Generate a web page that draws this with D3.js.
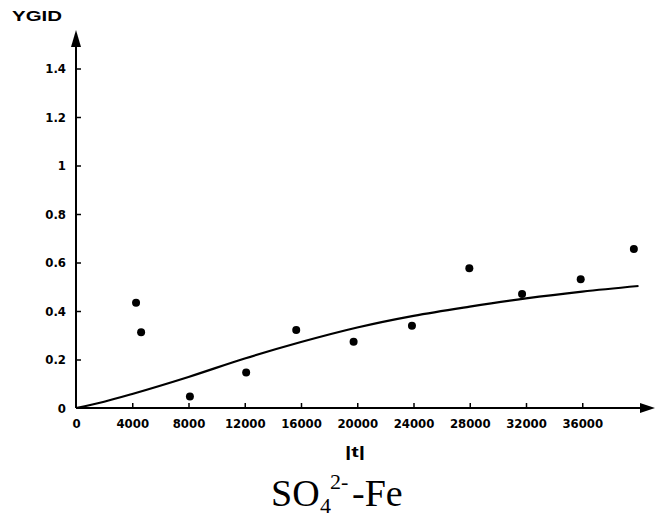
<!DOCTYPE html>
<html>
<head>
<meta charset="utf-8">
<script src="https://cdn.jsdelivr.net/npm/d3@7"></script>
<style>
  html, body { margin: 0; padding: 0; background: #fff; }
  svg { display: block; }
  .tick text { font-family: "Liberation Sans Narrow", "DejaVu Sans Condensed", "Liberation Sans", sans-serif; font-weight: bold; font-size: 13px; fill: #000; }
</style>
</head>
<body>
<svg id="chart" width="655" height="523"></svg>
<script>
// Measured points: time vs. value
const timeValues = [4270, 4630, 8100, 12100, 15660, 19740, 23890, 27970, 31720, 35890, 39670];
const yValues    = [0.434, 0.312, 0.047, 0.146, 0.322, 0.273, 0.339, 0.576, 0.470, 0.531, 0.656];

// Fitted curve, read at regular time steps
const fitTime  = [0, 2000, 4000, 8000, 12000, 16000, 20000, 24000, 28000, 32000, 36000, 40000];
const fitValue = [0, 0.026, 0.058, 0.128, 0.204, 0.272, 0.332, 0.380, 0.418, 0.452, 0.480, 0.503];

// Axis ticks
const xTicks = [0, 4000, 8000, 12000, 16000, 20000, 24000, 28000, 32000, 36000];
const yTicks = [0, 0.2, 0.4, 0.6, 0.8, 1, 1.2, 1.4];

const svg = d3.select("#chart");
const x = d3.scaleLinear().domain([0, 40000]).range([76, 638.5]);
const y = d3.scaleLinear().domain([0, 1.4]).range([408, 68.5]);

// X axis (ticks pointing up into the plot)
const xAxis = svg.append("g")
  .attr("transform", `translate(0,${y(0)})`)
  .call(d3.axisBottom(x).tickValues(xTicks).tickSize(-5).tickPadding(12).tickFormat(d3.format("d")));
xAxis.select(".domain").remove();
xAxis.selectAll(".tick line").attr("stroke", "#000").attr("stroke-width", 1.5);
xAxis.selectAll(".tick").filter(d => d === 0).select("line").remove();
xAxis.selectAll(".tick text").attr("dy", "0.71em").attr("y", 11);

// Y axis (ticks pointing right into the plot)
const yAxis = svg.append("g")
  .attr("transform", `translate(${x(0)},0)`)
  .call(d3.axisLeft(y).tickValues(yTicks).tickSize(-5).tickPadding(10).tickFormat(d3.format("~g")));
yAxis.select(".domain").remove();
yAxis.selectAll(".tick line").attr("stroke", "#000").attr("stroke-width", 1.5);
yAxis.selectAll(".tick").filter(d => d === 0).select("line").remove();

// Axis lines with arrowheads
svg.append("line").attr("x1", x(0)).attr("y1", y(0)).attr("x2", x(0)).attr("y2", 38)
  .attr("stroke", "#000").attr("stroke-width", 2);
svg.append("path").attr("d", `M${x(0)},30 L${x(0) - 5},47 L${x(0) + 5},47 Z`).attr("fill", "#000");
svg.append("line").attr("x1", x(0)).attr("y1", y(0)).attr("x2", 645).attr("y2", y(0))
  .attr("stroke", "#000").attr("stroke-width", 2);
svg.append("path").attr("d", `M655,${y(0)} L640,${y(0) - 5} L640,${y(0) + 5} Z`).attr("fill", "#000");

// Fitted curve
const line = d3.line().x((d, i) => x(fitTime[i])).y(d => y(d)).curve(d3.curveMonotoneX);
svg.append("path").datum(fitValue).attr("d", line)
  .attr("fill", "none").attr("stroke", "#000").attr("stroke-width", 2.2);

// Data points
svg.append("g").selectAll("circle").data(yValues).join("circle")
  .attr("cx", (d, i) => x(timeValues[i])).attr("cy", d => y(d)).attr("r", 4).attr("fill", "#000");

// Axis titles
svg.append("text").attr("x", 12).attr("y", 21).text("YGID")
  .attr("font-family", "'Liberation Sans', Arial, sans-serif").attr("font-weight", "bold")
  .attr("font-size", 14).attr("textLength", 50).attr("lengthAdjust", "spacingAndGlyphs");
svg.append("text").attr("x", 345).attr("y", 457).text("|t|")
  .attr("font-family", "'Liberation Sans', Arial, sans-serif").attr("font-weight", "bold")
  .attr("font-size", 14).attr("textLength", 20).attr("lengthAdjust", "spacingAndGlyphs");

// Caption: SO4^2- -Fe
const cap = svg.append("text").attr("y", 506)
  .attr("font-family", "'Liberation Serif', 'Times New Roman', serif").attr("font-size", 38).attr("fill", "#000");
cap.append("tspan").attr("x", 271).text("SO");
cap.append("tspan").attr("x", 320).attr("dy", 7).attr("font-size", 22).text("4");
cap.append("tspan").attr("x", 330).attr("dy", -24).attr("font-size", 22).text("2-");
cap.append("tspan").attr("x", 352).attr("dy", 17).text("-Fe");
</script>
</body>
</html>
